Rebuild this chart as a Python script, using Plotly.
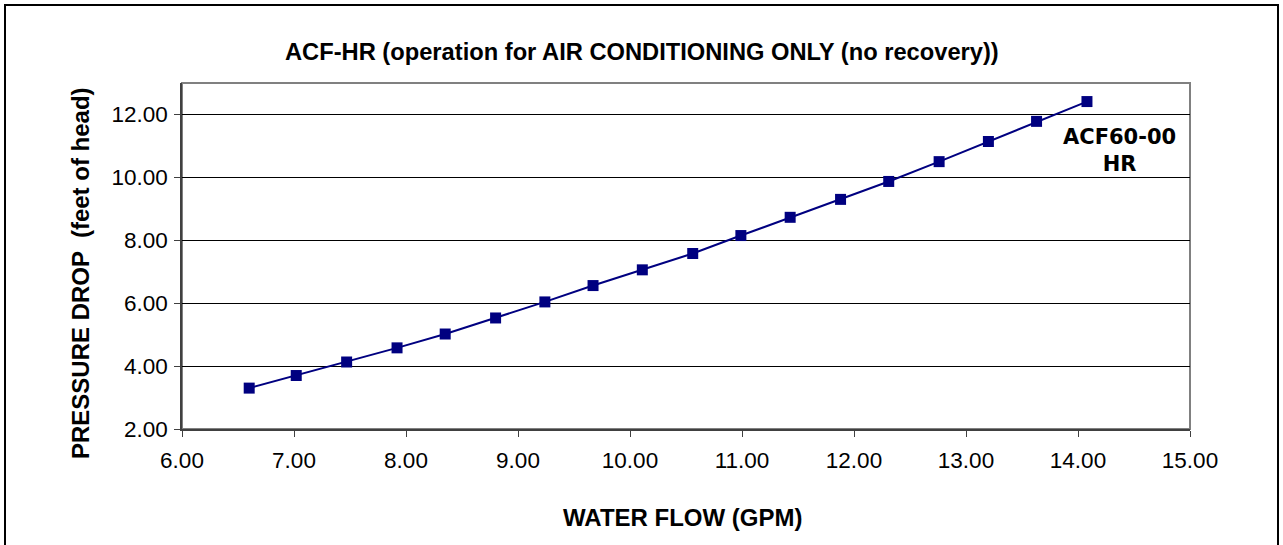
import plotly.graph_objects as go

water_flow = [6.60, 7.02, 7.47, 7.92, 8.35, 8.80, 9.24, 9.67, 10.11, 10.56,
              10.99, 11.43, 11.88, 12.31, 12.76, 13.20, 13.63, 14.08]
pressure_drop = [3.30, 3.70, 4.13, 4.58, 5.02, 5.53, 6.04, 6.56, 7.06, 7.58,
                 8.15, 8.73, 9.30, 9.87, 10.50, 11.14, 11.78, 12.41]
x_ticks = [6, 7, 8, 9, 10, 11, 12, 13, 14, 15]
y_ticks = [2, 4, 6, 8, 10, 12]

W, H = 1283, 545
L, R, T, B = 182, 93, 83, 116
pw, ph = W - L - R, H - T - B


def px_x(p):
    return (p - L) / pw


def px_y(p):
    return (H - B - p) / ph


fig = go.Figure()
fig.add_trace(go.Scatter(
    x=water_flow, y=pressure_drop, mode="lines+markers",
    line=dict(color="#000080", width=2),
    marker=dict(symbol="square", size=11, color="#000080"),
    showlegend=False, cliponaxis=False,
))

font_arial = "Liberation Sans, Arial, sans-serif"
tickfont = dict(family=font_arial, size=22.5, color="black")
fig.update_layout(
    width=W, height=H,
    margin=dict(l=L, r=R, t=T, b=B),
    paper_bgcolor="white", plot_bgcolor="white",
    xaxis=dict(range=[6, 15], tickvals=x_ticks,
               ticktext=[f"{v:.2f}" for v in x_ticks],
               showgrid=False, zeroline=False,
               showline=True, linecolor="#404040", linewidth=1.5,
               ticks="outside", ticklen=6, tickcolor="#404040", tickwidth=1,
               ticklabelstandoff=4,
               tickfont=tickfont),
    yaxis=dict(range=[2, 13], tickvals=y_ticks,
               ticktext=[f"{v:.2f}" for v in y_ticks],
               showgrid=True, gridcolor="black", gridwidth=1, zeroline=False,
               showline=True, linecolor="#404040", linewidth=1.5,
               ticks="outside", ticklen=6, tickcolor="#404040", tickwidth=1,
               ticklabelstandoff=2,
               tickfont=tickfont),
)

# chart title
fig.add_annotation(
    x=px_x(642), y=px_y(52), xref="paper", yref="paper",
    xanchor="center", yanchor="middle", showarrow=False,
    text="<b>ACF-HR (operation for AIR CONDITIONING ONLY (no recovery))</b>",
    font=dict(family=font_arial, size=23.7, color="black"),
)
# x axis title
fig.add_annotation(
    x=px_x(683), y=px_y(517), xref="paper", yref="paper",
    xanchor="center", yanchor="middle", showarrow=False,
    text="<b>WATER FLOW (GPM)</b>",
    font=dict(family=font_arial, size=24, color="black"),
)
# y axis title
fig.add_annotation(
    x=px_x(80), y=px_y(273), xref="paper", yref="paper",
    xanchor="center", yanchor="middle", showarrow=False, textangle=-90,
    text="<b>PRESSURE DROP  (feet of head)</b>",
    font=dict(family=font_arial, size=24, color="black"),
)
# series label
fig.add_annotation(
    x=px_x(1119), y=px_y(150), xref="paper", yref="paper",
    xanchor="center", yanchor="middle", showarrow=False, align="center",
    text="<b>ACF60-00<br>HR</b>",
    font=dict(family="DejaVu Sans, Verdana, sans-serif", size=21, color="black"),
)

# plot area border
fig.add_shape(type="rect", xref="paper", yref="paper", x0=0, x1=1, y0=0, y1=1,
              line=dict(color="#808080", width=2), layer="below")
# outer chart border
fig.add_shape(type="rect", xref="paper", yref="paper",
              x0=px_x(5), x1=px_x(1278), y0=px_y(560), y1=px_y(5),
              line=dict(color="black", width=2), layer="below")

fig.write_html("out.html", config={"displayModeBar": False},
               post_script="document.body.style.margin='0px';")
